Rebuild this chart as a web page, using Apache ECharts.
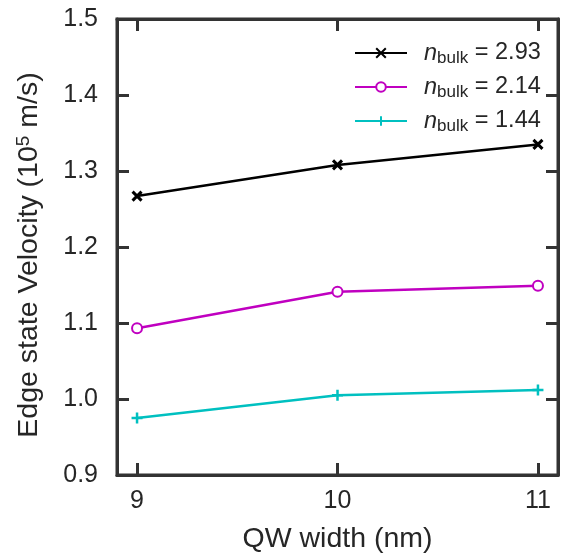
<!DOCTYPE html>
<html><head><meta charset="utf-8">
<script src="https://cdn.jsdelivr.net/npm/echarts@6/dist/echarts.min.js"></script>
<style>html,body{margin:0;padding:0;background:#fff}#c{width:561px;height:559px}</style>
</head><body><div id="c"></div>
<script>
const xValues = [9, 10, 11];
const xTicks = [9, 10, 11];
const yTicks = [0.9, 1.0, 1.1, 1.2, 1.3, 1.4, 1.5];
const seriesNames = ['2.93', '2.14', '1.44'];
const v293 = [1.267, 1.308, 1.335];
const v214 = [1.093, 1.141, 1.149];
const v144 = [0.975, 1.005, 1.012];

const FONT = 'Liberation Sans';
const TXT = '#262626';
const frame = '#333';
const crossPath = 'path://M0,0L10,10M10,0L0,10';
const plusPath = 'path://M5,0L5,10M0,5L10,5';

function pairs(vals){ return xValues.map((x,i)=>[x, vals[i]]); }

const chart = echarts.init(document.getElementById('c'), null, {renderer:'canvas'});
const tickCommon = {show:true, inside:true, length:12, lineStyle:{color:frame, width:3}};
const lineCommon = {show:true, onZero:false, lineStyle:{color:frame, width:3}};
chart.setOption({
  animation:false,
  grid:{left:117, right:3, top:19, bottom:82, show:true, borderColor:frame, borderWidth:3, backgroundColor:'transparent'},
  xAxis:[{
    type:'value', min:8.9, max:11.1, position:'bottom',
    axisLine:lineCommon,
    axisTick:Object.assign({customValues:xTicks}, tickCommon),
    axisLabel:{customValues:xTicks, margin:14, color:TXT, fontSize:25, fontFamily:FONT},
    splitLine:{show:false},
    name:'QW width (nm)', nameLocation:'middle', nameGap:50,
    nameTextStyle:{fontSize:28.5, color:TXT, fontFamily:FONT}
  },{
    type:'value', min:8.9, max:11.1, position:'top',
    axisLine:lineCommon,
    axisTick:Object.assign({customValues:xTicks}, tickCommon),
    axisLabel:{show:false}, splitLine:{show:false}
  }],
  yAxis:[{
    type:'value', min:0.9, max:1.5, position:'left',
    axisLine:lineCommon,
    axisTick:Object.assign({customValues:yTicks}, tickCommon),
    axisLabel:{customValues:yTicks, margin:19, color:TXT, fontSize:25, fontFamily:FONT,
      formatter:v=>v.toFixed(1)},
    splitLine:{show:false},
    name:'{a|Edge state Velocity (10}{s|5}{a| m/s)}', nameLocation:'middle', nameGap:72,
    nameTextStyle:{padding:[0,16,0,0], rich:{
      a:{fontSize:28.5, color:TXT, fontFamily:FONT},
      s:{fontSize:19, color:TXT, fontFamily:FONT, verticalAlign:'top', padding:[0,0,12,0]}
    }}
  },{
    type:'value', min:0.9, max:1.5, position:'right',
    axisLine:lineCommon,
    axisTick:Object.assign({customValues:yTicks}, tickCommon),
    axisLabel:{show:false}, splitLine:{show:false}
  }],
  legend:{
    left:349, top:34, orient:'vertical', itemWidth:52, itemHeight:12, itemGap:6,
    formatter:name=>'{n|n}{b|bulk}{t| = '+name+'}',
    textStyle:{padding:[0,0,0,12], lineHeight:28, rich:{
      n:{fontSize:23.5, fontStyle:'italic', color:TXT, fontFamily:FONT, lineHeight:28},
      b:{fontSize:17, color:TXT, fontFamily:FONT, verticalAlign:'bottom', lineHeight:28, padding:[10,0,0,0]},
      t:{fontSize:23.5, color:TXT, fontFamily:FONT, lineHeight:28}
    }},
    data:seriesNames
  },
  series:[
    {name:seriesNames[0], type:'line', data:pairs(v293),
     symbol:crossPath, symbolSize:9,
     lineStyle:{color:'#000', width:2.5},
     itemStyle:{color:'#000', borderColor:'#000', borderWidth:3}},
    {name:seriesNames[1], type:'line', data:pairs(v214),
     symbol:'emptyCircle', symbolSize:10,
     lineStyle:{color:'#c000c0', width:2.5},
     itemStyle:{color:'#c000c0', borderColor:'#c000c0', borderWidth:2.5}},
    {name:seriesNames[2], type:'line', data:pairs(v144),
     symbol:plusPath, symbolSize:11,
     lineStyle:{color:'#00c0c0', width:2.5},
     itemStyle:{color:'#00c0c0', borderColor:'#00c0c0', borderWidth:2.5}}
  ]
});
</script></body></html>
